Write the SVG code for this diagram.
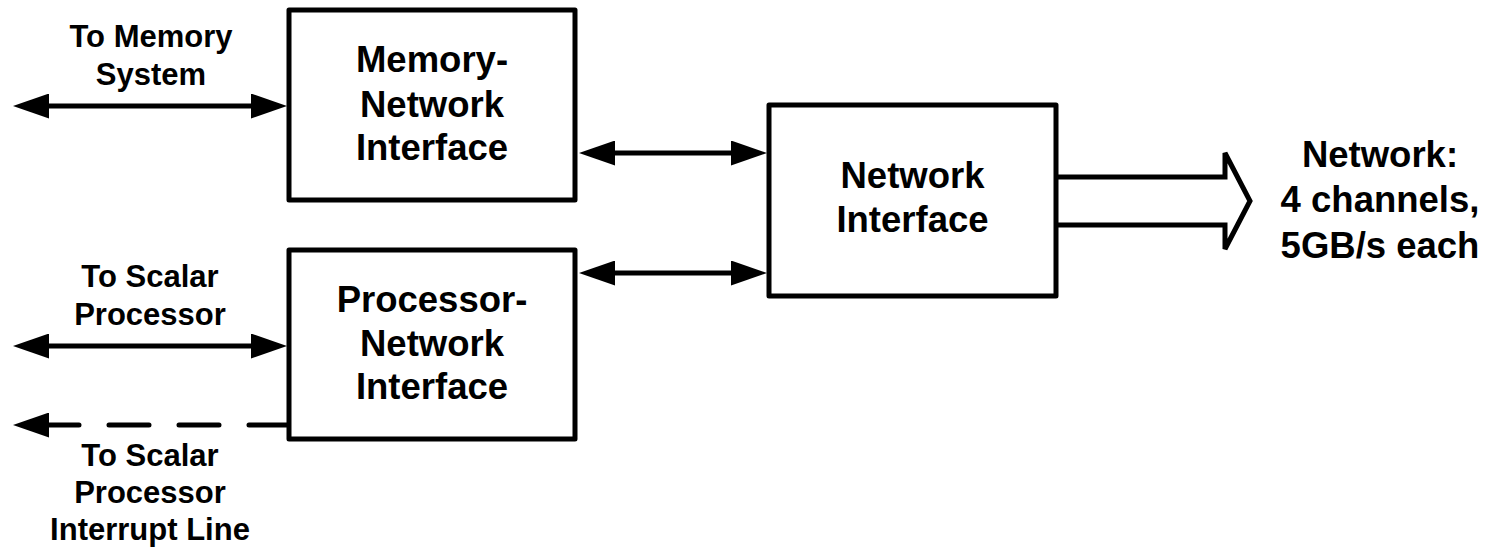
<svg xmlns="http://www.w3.org/2000/svg" width="1489" height="549" viewBox="0 0 1489 549">
<style>
.box{fill:#fff;stroke:#000;stroke-width:5;stroke-linejoin:round}
.ln{fill:none;stroke:#000;stroke-width:5}
.dash{stroke-dasharray:40 30;stroke-linecap:round}
.big{fill:none;stroke:#000;stroke-width:5;stroke-linejoin:miter}
text{font-family:"Liberation Sans",Arial,sans-serif;font-weight:bold;fill:#000;text-anchor:middle}
.lb{font-size:31px}
.bx{font-size:36.5px}
</style>
<defs>
<marker id="ah" viewBox="0 0 36 25" refX="26" refY="12.5" markerWidth="36" markerHeight="25" markerUnits="userSpaceOnUse" orient="auto-start-reverse">
<path d="M0,0 L36,12.5 L0,25 Z" fill="#000"/>
</marker>
</defs>
<g id="connectors">
<line class="ln" x1="23" y1="106" x2="277" y2="106" marker-start="url(#ah)" marker-end="url(#ah)"/>
<line class="ln" x1="23" y1="346" x2="277" y2="346" marker-start="url(#ah)" marker-end="url(#ah)"/>
<path class="ln dash" d="M289,425 L23,425" marker-end="url(#ah)"/>
<line class="ln" x1="589" y1="153" x2="757" y2="153" marker-start="url(#ah)" marker-end="url(#ah)"/>
<line class="ln" x1="589" y1="273" x2="757" y2="273" marker-start="url(#ah)" marker-end="url(#ah)"/>
<path class="big" d="M1056,177 L1225,177 L1225,153 L1250,201 L1225,249 L1225,225 L1056,225"/>
</g>
<g id="labels">
<text class="lb" x="151" y="47">To Memory</text>
<text class="lb" x="151" y="85">System</text>
<text class="lb" x="150" y="287">To Scalar</text>
<text class="lb" x="150" y="325">Processor</text>
<text class="lb" x="150" y="466">To Scalar</text>
<text class="lb" x="150" y="503">Processor</text>
<text class="lb" x="150" y="540">Interrupt Line</text>
<text class="bx" x="1380" y="167">Network:</text>
<text class="bx" x="1380" y="212">4 channels,</text>
<text class="bx" x="1380" y="258">5GB/s each</text>
</g>
<g id="mem-ni">
<rect class="box" x="289" y="10" width="286" height="190"/>
<text class="bx" x="432" y="72">Memory-</text>
<text class="bx" x="432" y="117">Network</text>
<text class="bx" x="432" y="160">Interface</text>
</g>
<g id="proc-ni">
<rect class="box" x="289" y="250" width="286" height="189"/>
<text class="bx" x="432" y="312">Processor-</text>
<text class="bx" x="432" y="356">Network</text>
<text class="bx" x="432" y="399">Interface</text>
</g>
<g id="net-if">
<rect class="box" x="769" y="105" width="287" height="191"/>
<text class="bx" x="912.5" y="188">Network</text>
<text class="bx" x="912.5" y="232">Interface</text>
</g>
</svg>
